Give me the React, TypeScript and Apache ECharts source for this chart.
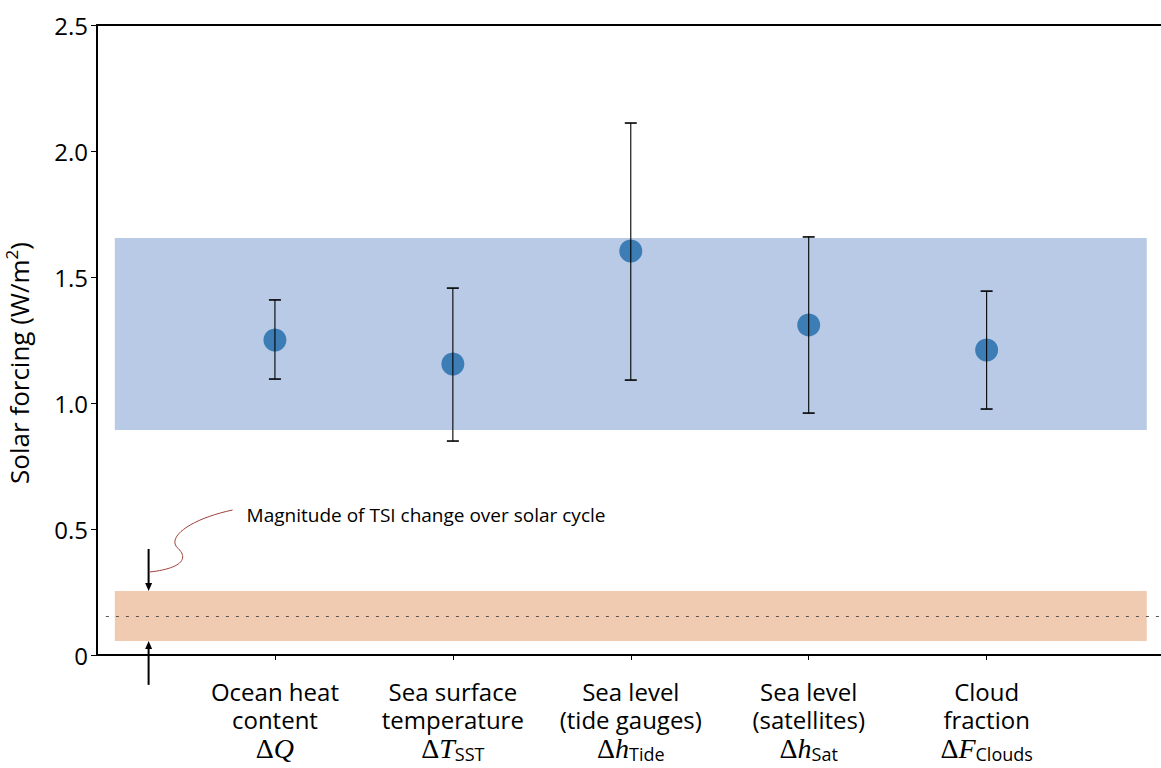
import React, { useEffect, useRef } from "react";
import * as echarts from "echarts";

const line1 = ["Ocean heat", "Sea surface", "Sea level", "Sea level", "Cloud"];
const line2 = ["content", "temperature", "(tide gauges)", "(satellites)", "fraction"];
const symbols = ["Q", "T", "h", "h", "F"];
const subscripts = ["", "SST", "Tide", "Sat", "Clouds"];
const xPositions = [1, 2, 3, 4, 5];
const centers = [1.25, 1.155, 1.603, 1.31, 1.21];
const lows = [1.095, 0.849, 1.091, 0.96, 0.976];
const highs = [1.409, 1.456, 2.111, 1.659, 1.444];

const forcingBand = [0.893, 1.655];
const tsiBand = [0.056, 0.254];
const tsiMean = 0.155;
const bandX = [0.1, 5.9];
const xMax = 5.98;
const arrowX = 0.29;
const annotation = "Magnitude of TSI change over solar cycle";
const yName = "Solar forcing (W/m{sup|2})";

const SANS = "'Open Sans', Lato, sans-serif";
const SERIF = "'Liberation Serif', 'DejaVu Serif', serif";

export default function App() {
  const ref = useRef<HTMLDivElement>(null);
  useEffect(() => {
    const chart = echarts.init(ref.current!, null, { renderer: "svg" });
    const option: any = {
      animation: false,
      backgroundColor: "#ffffff",
      grid: {
        left: 97,
        top: 25,
        right: 0,
        bottom: 113,
        containLabel: false,
        outerBoundsMode: "none",
      },
      xAxis: [
        {
          type: "value",
          min: 0,
          max: xMax,
          interval: 1,
          axisLine: { show: true, lineStyle: { color: "#000", width: 2 } },
          axisTick: {
            show: true,
            length: 5,
            customValues: xPositions,
            lineStyle: { color: "#000", width: 1 },
          },
          splitLine: { show: false },
          axisLabel: {
            customValues: xPositions,
            margin: 22,
            formatter: (v: number) => {
              const i = Math.round(v) - 1;
              if (i < 0 || i > 4) return "";
              const sub = subscripts[i] ? `{s|${subscripts[i]}}` : "";
              return `{t|${line1[i]}}\n{t|${line2[i]}}\n{m|Δ}{i|${symbols[i]}}${sub}`;
            },
            rich: {
              t: { fontFamily: SANS, fontSize: 24, lineHeight: 28, color: "#000" },
              m: { fontFamily: SERIF, fontSize: 28, lineHeight: 30, color: "#000" },
              i: { fontFamily: SERIF, fontSize: 28, fontStyle: "italic", lineHeight: 30, color: "#000" },
              s: { fontFamily: SANS, fontSize: 18, lineHeight: 26, verticalAlign: "bottom", color: "#000" },
            },
          },
        },
        {
          type: "value",
          position: "top",
          min: 0,
          max: xMax,
          axisLine: { show: true, onZero: false, lineStyle: { color: "#000", width: 2 } },
          axisTick: { show: false },
          axisLabel: { show: false },
          splitLine: { show: false },
        },
      ],
      yAxis: {
        type: "value",
        min: 0,
        max: 2.5,
        interval: 0.5,
        name: yName,
        nameLocation: "middle",
        nameGap: 62,
        nameTextStyle: {
          fontFamily: SANS,
          fontSize: 26,
          lineHeight: 32,
          color: "#000",
          padding: [0, 46, 0, 0],
          rich: {
            sup: { fontFamily: SANS, fontSize: 17, lineHeight: 20, verticalAlign: "top", color: "#000" },
          },
        },
        axisLine: { show: true, lineStyle: { color: "#000", width: 2 } },
        axisTick: { show: true, length: 6, lineStyle: { color: "#000", width: 1 } },
        splitLine: { show: false },
        axisLabel: {
          fontFamily: SANS,
          fontSize: 24,
          color: "#000",
          margin: 9,
          formatter: (v: number) => (v === 0 ? "0" : v.toFixed(1)),
        },
      },
      series: [
        {
          type: "scatter",
          data: [],
          markArea: {
            silent: true,
            data: [
              [
                { coord: [bandX[0], forcingBand[0]], itemStyle: { color: "#b9cae7" } },
                { coord: [bandX[1], forcingBand[1]] },
              ],
              [
                { coord: [bandX[0], tsiBand[0]], itemStyle: { color: "#f1cbb1" } },
                { coord: [bandX[1], tsiBand[1]] },
              ],
            ],
          },
          markLine: {
            silent: true,
            symbol: ["none", "none"],
            label: { show: false },
            lineStyle: { color: "#555", type: [3, 7], width: 1 },
            data: [[{ coord: [0.05, tsiMean] }, { coord: [xMax, tsiMean] }]],
          },
        },
        {
          type: "scatter",
          symbolSize: 23,
          itemStyle: { color: "#3d7db5", opacity: 1 },
          data: xPositions.map((x, i) => [x, centers[i]]),
          z: 3,
        },
        {
          type: "custom",
          z: 4,
          data: xPositions.map((x, i) => [x, lows[i], highs[i]]),
          renderItem: (params: any, api: any) => {
            const x = api.value(0);
            const lo = api.coord([x, api.value(1)]);
            const hi = api.coord([x, api.value(2)]);
            const w = 6;
            const st = { stroke: "#000", lineWidth: 1.1 };
            return {
              type: "group",
              children: [
                { type: "line", shape: { x1: lo[0], y1: lo[1], x2: hi[0], y2: hi[1] }, style: st },
                { type: "line", shape: { x1: hi[0] - w, y1: hi[1], x2: hi[0] + w, y2: hi[1] }, style: { stroke: "#000", lineWidth: 1.6 } },
                { type: "line", shape: { x1: lo[0] - w, y1: lo[1], x2: lo[0] + w, y2: lo[1] }, style: { stroke: "#000", lineWidth: 1.6 } },
              ],
            };
          },
        },
        {
          type: "custom",
          z: 5,
          clip: false,
          data: [[arrowX, tsiBand[1], tsiBand[0]]],
          renderItem: (params: any, api: any) => {
            const x = api.value(0);
            const top = api.coord([x, api.value(1)]);
            const bot = api.coord([x, api.value(2)]);
            const px = top[0];
            const len = 42;
            const ah = 8;
            const aw = 3.5;
            const s = { stroke: "#000", lineWidth: 2 };
            const c0 = [px + 1, top[1] - 19];
            const txt = [px + 98, top[1] - 76];
            return {
              type: "group",
              children: [
                { type: "line", shape: { x1: px, y1: top[1] - len, x2: px, y2: top[1] - ah + 1 }, style: s },
                {
                  type: "polygon",
                  shape: { points: [[px - aw, top[1] - ah], [px + aw, top[1] - ah], [px, top[1]]] },
                  style: { fill: "#000" },
                },
                { type: "line", shape: { x1: px, y1: bot[1] + len + 2, x2: px, y2: bot[1] + ah - 1 }, style: s },
                {
                  type: "polygon",
                  shape: { points: [[px - aw, bot[1] + ah], [px + aw, bot[1] + ah], [px, bot[1]]] },
                  style: { fill: "#000" },
                },
                {
                  type: "bezierCurve",
                  shape: {
                    x1: c0[0], y1: c0[1],
                    cpx1: c0[0] + 28, cpy1: c0[1] - 3,
                    cpx2: c0[0] + 42, cpy2: c0[1] - 12,
                    x2: c0[0] + 27, y2: c0[1] - 25,
                  },
                  style: { stroke: "#a0403c", lineWidth: 1, fill: "none" },
                },
                {
                  type: "bezierCurve",
                  shape: {
                    x1: c0[0] + 27, y1: c0[1] - 25,
                    cpx1: c0[0] + 18, cpy1: c0[1] - 37,
                    cpx2: c0[0] + 45, cpy2: c0[1] - 54,
                    x2: c0[0] + 83, y2: c0[1] - 62,
                  },
                  style: { stroke: "#a0403c", lineWidth: 1, fill: "none" },
                },
                {
                  type: "text",
                  x: txt[0],
                  y: txt[1],
                  style: {
                    text: annotation,
                    fontFamily: SANS,
                    fontSize: 19,
                    fill: "#000",
                    verticalAlign: "middle",
                    align: "left",
                  },
                },
              ],
            };
          },
        },
      ],
    };
    chart.setOption(option);
    return () => chart.dispose();
  }, []);
  return (
    <div
      ref={ref}
      style={{ position: "fixed", left: 0, top: 0, width: 1161, height: 768, background: "#fff" }}
    />
  );
}
